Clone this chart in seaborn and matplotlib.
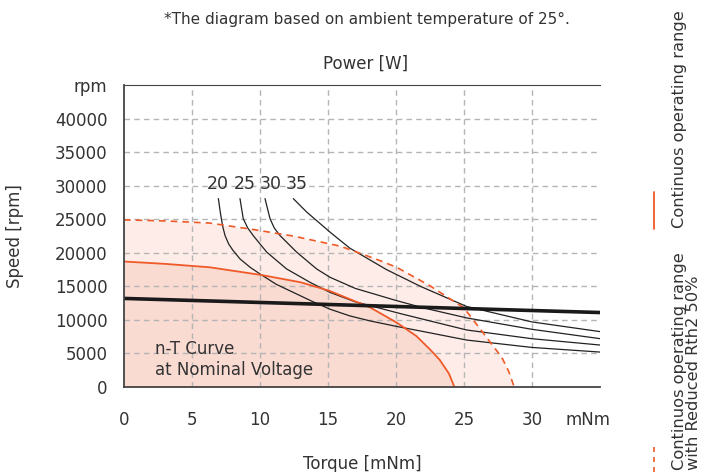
import matplotlib
matplotlib.use("Agg")
import matplotlib.pyplot as plt
from matplotlib.lines import Line2D
import seaborn as sns

# continuous operating range (nominal)
cont_torque = [0, 3, 6.3, 10.1, 13, 15.1, 18.1, 20.05, 21.5, 22.5, 23.2, 23.9, 24.3]
cont_speed = [18700, 18350, 17840, 16690, 15600, 14340, 11860, 9610, 7600, 5610, 4100, 2000, 0]

# continuous operating range with reduced Rth2 50%
red_torque = [0, 3, 6.3, 9.5, 12.45, 15.9, 18.5, 20.05, 22.5, 25.0, 26.4, 27.8, 28.3, 28.7]
red_speed = [24900, 24750, 24430, 23470, 22490, 20990, 19090, 17840, 15090, 11800, 8110, 4370, 2300, 0]

# n-T curve at nominal voltage
nt_torque = [0, 35]
nt_speed = [13200, 11100]

# power curves [W]
p20_torque = [6.94, 7.1, 7.25, 7.43, 7.7, 8.0, 8.53, 9.3, 10.12, 11.2, 12.45, 13.8, 15.15,
              16.6, 18.1, 20, 21.8, 25.2, 30, 35]
p20_speed = [28070, 25800, 24000, 22570, 21300, 20400, 19090, 17800, 16690, 15300, 14100,
             12800, 11600, 10600, 9850, 9050, 8350, 7000, 5900, 5210]
p25_torque = [8.53, 8.77, 9.1, 9.5, 10.5, 11.96, 13.68, 15.15, 17.0, 20.5, 25.2, 30, 35]
p25_speed = [28070, 25070, 23700, 22570, 20090, 17590, 15600, 14100, 12700, 10850, 8500, 7200, 6260]
p30_torque = [10.37, 10.74, 11.05, 11.47, 12.7, 14.17, 15.15, 17.0, 20.0, 22.0, 25.2, 30, 35]
p30_speed = [28070, 25070, 23700, 22570, 20090, 17590, 16350, 14700, 12900, 11800, 10300, 8600, 7210]
p35_torque = [12.45, 13.43, 15.15, 16.6, 19.3, 21.8, 25.2, 30, 35]
p35_speed = [28070, 26080, 23080, 20700, 17500, 15000, 12000, 9700, 8260]

power_labels = ["20", "25", "30", "35"]
power_label_torque = [6.9, 8.9, 10.8, 12.7]
power_label_speed = 30200

x_ticks = [0, 5, 10, 15, 20, 25, 30, 34.1]
x_ticklabels = ["0", "5", "10", "15", "20", "25", "30", "mNm"]
y_ticks = [0, 5000, 10000, 15000, 20000, 25000, 30000, 35000, 40000, 45000]
y_ticklabels = ["0", "5000", "10000", "15000", "20000", "25000", "30000", "35000", "40000", "rpm"]
x_grid = [5, 10, 15, 20, 25, 30]
y_grid = [5000, 10000, 15000, 20000, 25000, 30000, 35000, 40000]

ORANGE = "#f05a28"
TEXT = "#333333"
FS = 12

sns.set_style("white")
plt.rcParams["font.family"] = ["DejaVu Sans"]

fig = plt.figure(figsize=(7.05, 4.72), dpi=100)
ax = fig.add_axes([0.1759, 0.180, 0.675, 0.640])

ax.fill_between(red_torque, red_speed, 0, color="#fdece8", lw=0, zorder=0.5)
ax.fill_between(cont_torque, cont_speed, 0, color="#f9dbd2", lw=0, zorder=0.6)

for g in x_grid:
    ax.axvline(g, color="#b5b5b5", lw=1.0, linestyle=(0, (4, 3)), zorder=1.5)
for g in y_grid:
    ax.axhline(g, color="#b5b5b5", lw=1.0, linestyle=(0, (4, 3)), zorder=1.5)

for t, s in [(p20_torque, p20_speed), (p25_torque, p25_speed),
             (p30_torque, p30_speed), (p35_torque, p35_speed)]:
    sns.lineplot(x=t, y=s, ax=ax, color="#222222", lw=0.9, sort=False, estimator=None)

sns.lineplot(x=red_torque, y=red_speed, ax=ax, color=ORANGE, lw=1.2,
             linestyle=(0, (4, 3)), sort=False, estimator=None)
sns.lineplot(x=cont_torque, y=cont_speed, ax=ax, color=ORANGE, lw=1.3,
             sort=False, estimator=None)
sns.lineplot(x=nt_torque, y=nt_speed, ax=ax, color="#1a1a1a", lw=2.6,
             sort=False, estimator=None)

for lab, t in zip(power_labels, power_label_torque):
    ax.text(t, power_label_speed, lab, ha="center", va="center",
            fontsize=FS + 0.5, color=TEXT)

ax.text(2.3, 4100, "n-T Curve\nat Nominal Voltage", ha="left", va="center",
        fontsize=FS, color=TEXT, linespacing=1.15)

ax.set_xlim(0, 35)
ax.set_ylim(0, 45000)
ax.set_xticks(x_ticks)
ax.set_xticklabels(x_ticklabels)
ax.set_yticks(y_ticks)
ax.set_yticklabels(y_ticklabels)
ax.tick_params(axis="both", length=0, labelsize=FS, labelcolor=TEXT)
ax.tick_params(axis="x", pad=17)
ax.tick_params(axis="y", pad=12)
ax.grid(False)

for side in ["left", "bottom", "top"]:
    ax.spines[side].set_color("#444444")
    ax.spines[side].set_linewidth(1.3)
ax.spines["top"].set_linewidth(0.8)
ax.spines["right"].set_visible(False)

ax.set_xlabel("Torque [mNm]", fontsize=FS, color=TEXT, labelpad=19)
ax.set_ylabel("Speed [rpm]", fontsize=FS, color=TEXT, labelpad=22)

fig.text(0.520, 0.958, "*The diagram based on ambient temperature of 25°.",
         ha="center", va="center", fontsize=11, color=TEXT)
fig.text(0.518, 0.866, "Power [W]", ha="center", va="center",
         fontsize=FS, color=TEXT)

# legend on the right, rotated
fig.add_artist(Line2D([0.9277, 0.9277], [0.515, 0.593], color=ORANGE, lw=1.3,
                      transform=fig.transFigure))
fig.text(0.9645, 0.517, "Continuos operating range", rotation=90,
         ha="center", va="bottom", fontsize=11.7, color=TEXT)
fig.add_artist(Line2D([0.9277, 0.9277], [0.0, 0.057], color=ORANGE, lw=1.2,
                      linestyle=(0, (3, 3)), transform=fig.transFigure))
fig.text(0.974, 0.004, "Continuos operating range\nwith Reduced Rth2 50%",
         rotation=90, ha="center", va="bottom", multialignment="left",
         fontsize=11.7, color=TEXT, linespacing=0.95)

fig.savefig("out.png", dpi=100)
